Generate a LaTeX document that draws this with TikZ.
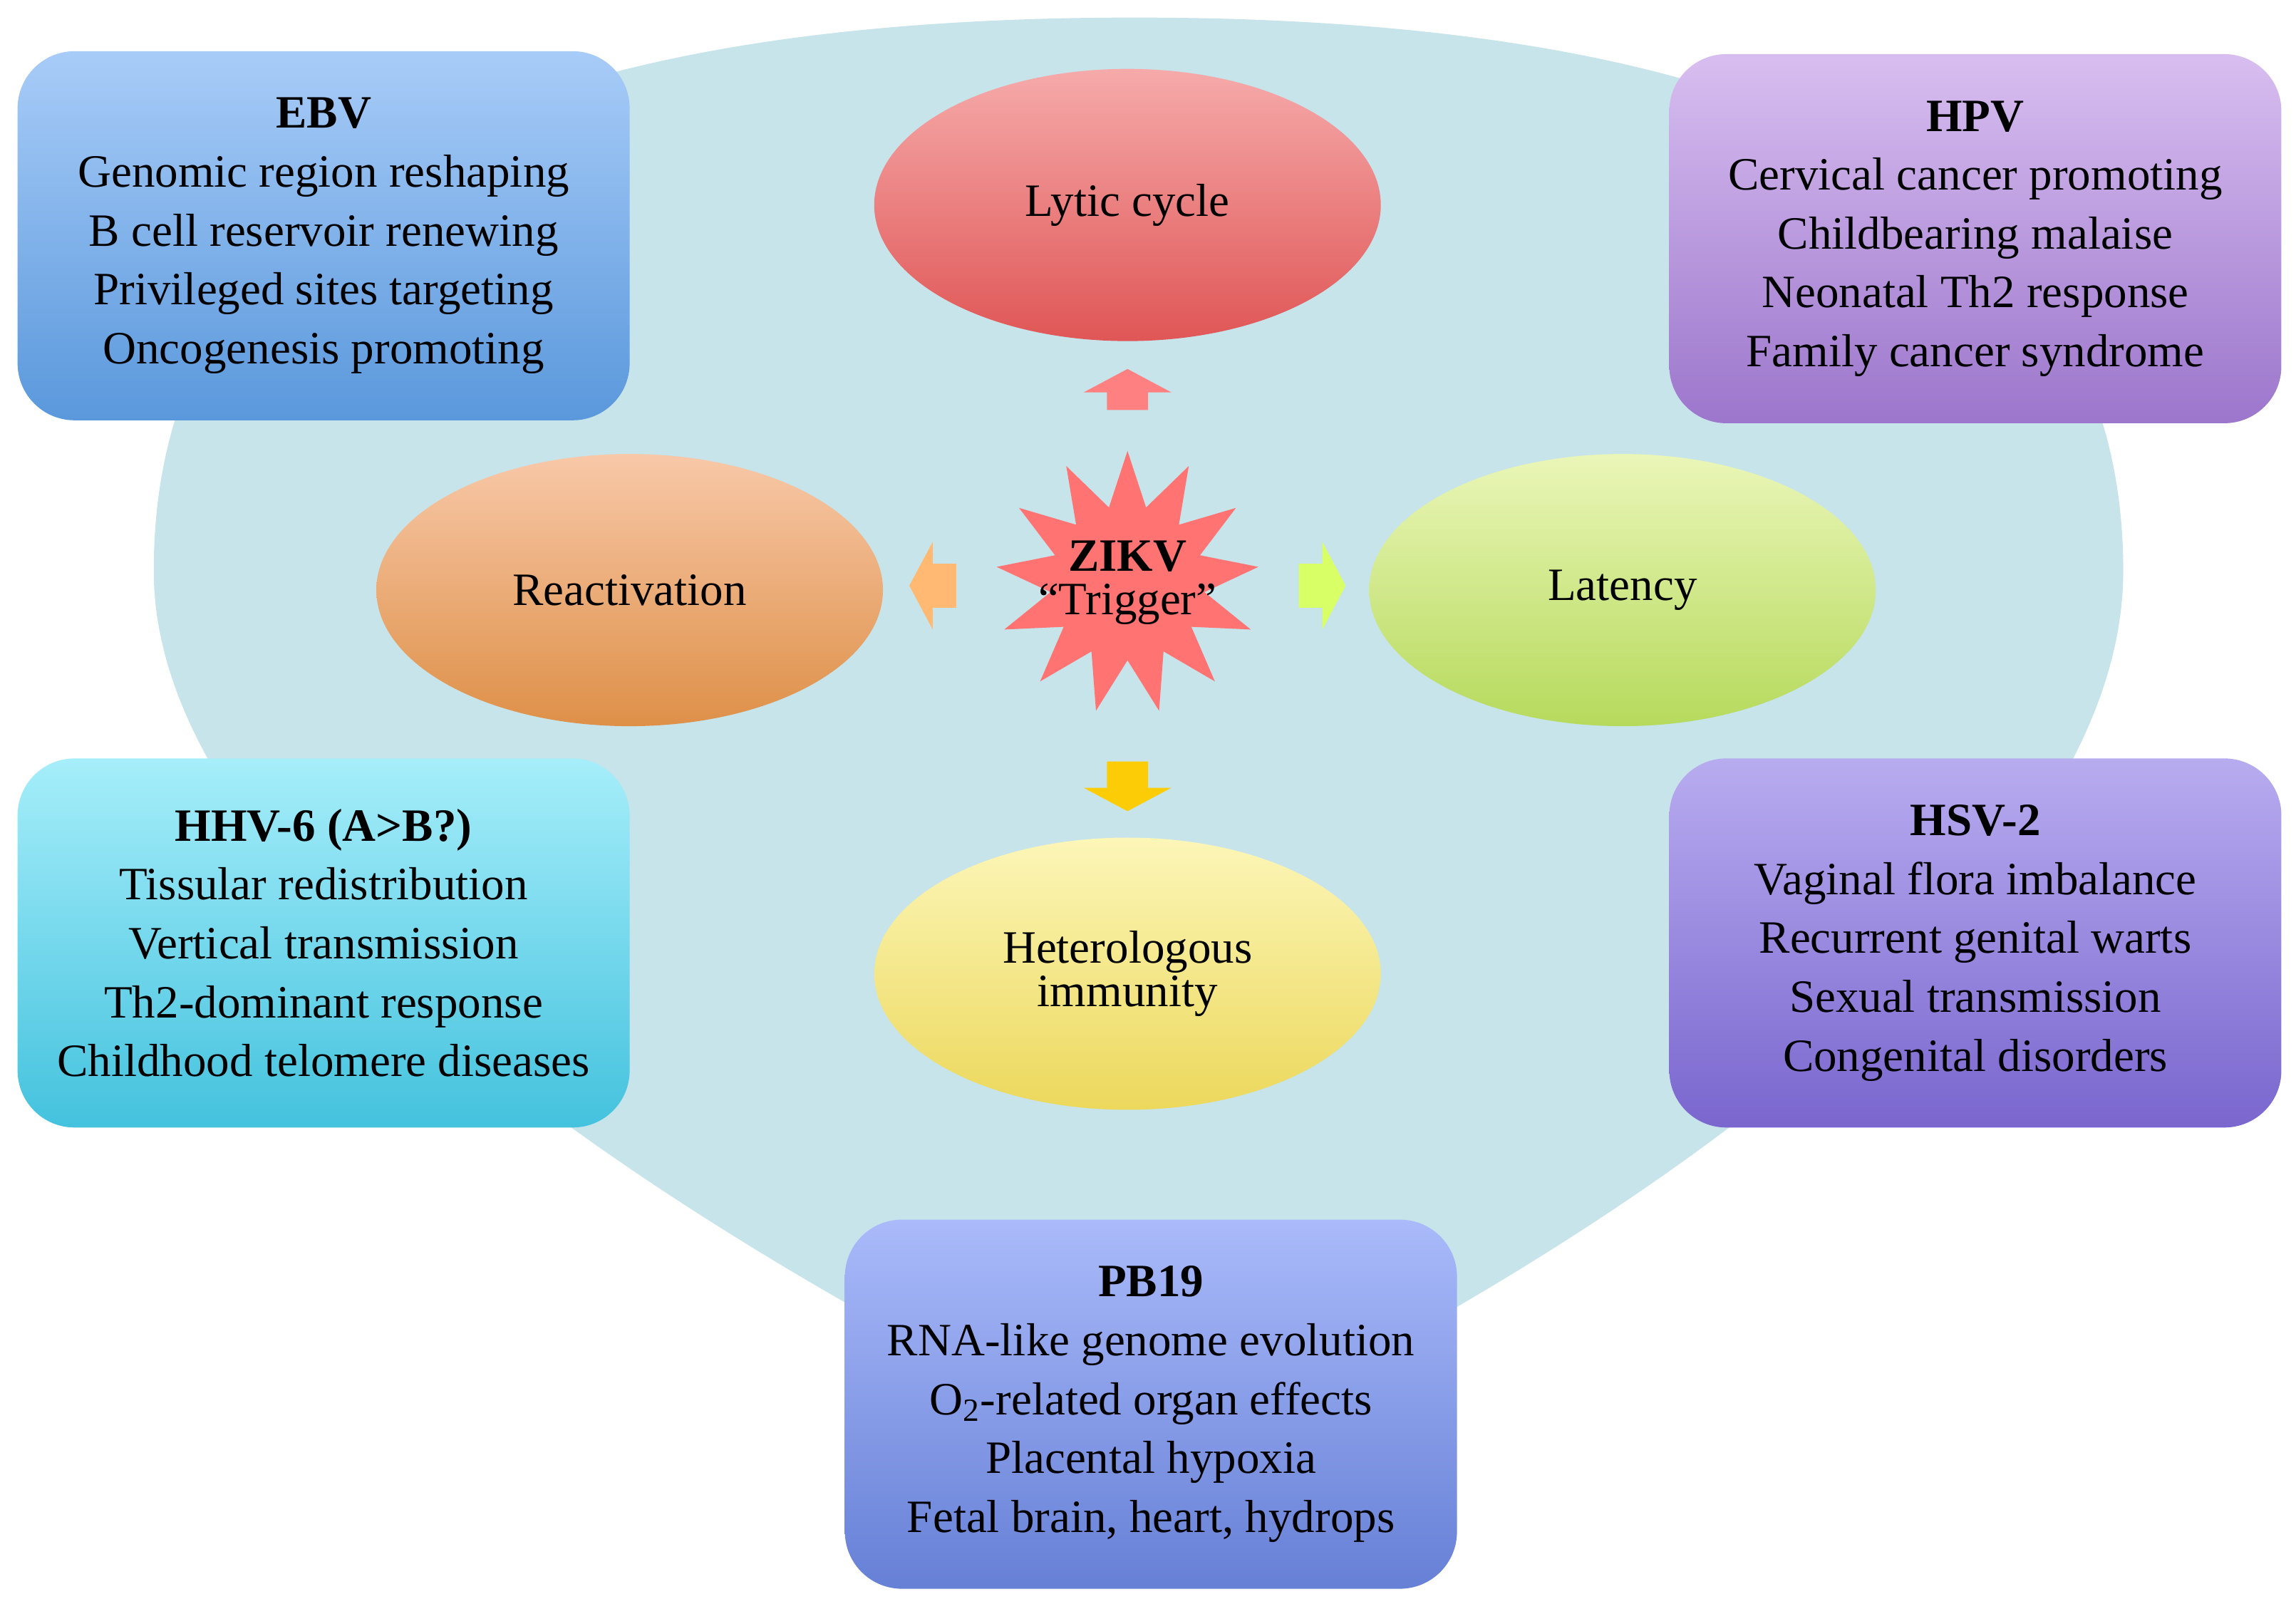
\documentclass[tikz,border=0pt]{standalone}
\usepackage{tikz}
\usepackage{fontspec}
\setmainfont{Liberation Serif}
\usetikzlibrary{shapes.geometric}
\definecolor{bgblue}{HTML}{C6E4EA}
\definecolor{ebvtop}{HTML}{A8CCF8}\definecolor{ebvbot}{HTML}{5A98DC}
\definecolor{hpvtop}{HTML}{D8BEF0}\definecolor{hpvbot}{HTML}{9C76CC}
\definecolor{hhvtop}{HTML}{A6EEFA}\definecolor{hhvbot}{HTML}{44C2DE}
\definecolor{hsvtop}{HTML}{B8ACF0}\definecolor{hsvbot}{HTML}{7A66CE}
\definecolor{pbtop}{HTML}{AABAFA}\definecolor{pbbot}{HTML}{6680D6}
\definecolor{lyttop}{HTML}{F6AAAA}\definecolor{lytbot}{HTML}{E05656}
\definecolor{retop}{HTML}{F8C8A8}\definecolor{rebot}{HTML}{DE9048}
\definecolor{lattop}{HTML}{EAF6B8}\definecolor{latbot}{HTML}{B6DA5C}
\definecolor{hettop}{HTML}{FCF6B8}\definecolor{hetbot}{HTML}{ECD85C}
\tikzset{
  every node/.style={font=\fontsize{18.5}{23.5}\selectfont},
  infobox/.style={rectangle, rounded corners=8mm, minimum width=85.9mm, minimum height=51.8mm, align=center, text=black},
  stage/.style={ellipse, minimum width=71.1mm, minimum height=38.2mm, align=center}
}
\begin{document}
\begin{tikzpicture}[x=0.2055mm, y=-0.2055mm]
\useasboundingbox (0,0) rectangle (1568,1095);
\fill[bgblue] (105,390) .. controls (105,100) and (400,12) .. (775,12) .. controls (1150,12) and (1450,100) .. (1450,390) .. controls (1450,600) and (1150,830) .. (790,1000) .. controls (430,830) and (105,600) .. (105,390);
% boxes
\node (ebv) [infobox, top color=ebvtop, bottom color=ebvbot] at (221,161)
  {\textbf{EBV}\\Genomic region reshaping\\B cell reservoir renewing\\Privileged sites targeting\\Oncogenesis promoting};
\node (hpv) [infobox, top color=hpvtop, bottom color=hpvbot] at (1349,163)
  {\textbf{HPV}\\Cervical cancer promoting\\Childbearing malaise\\Neonatal Th2 response\\Family cancer syndrome};
\node (hhv) [infobox, top color=hhvtop, bottom color=hhvbot] at (221,644)
  {\textbf{HHV-6 (A>B?)}\\Tissular redistribution\\Vertical transmission\\Th2-dominant response\\Childhood telomere diseases};
\node (hsv) [infobox, top color=hsvtop, bottom color=hsvbot] at (1349,644)
  {\textbf{HSV-2}\\Vaginal flora imbalance\\Recurrent genital warts\\Sexual transmission\\Congenital disorders};
\node (pb) [infobox, top color=pbtop, bottom color=pbbot] at (786,959)
  {\textbf{PB19}\\RNA-like genome evolution\\O\textsubscript{2}-related organ effects\\Placental hypoxia\\Fetal brain, heart, hydrops};
% stages
\node (lytic) [stage, top color=lyttop, bottom color=lytbot] at (770,140) {Lytic cycle};
\node (react) [stage, top color=retop, bottom color=rebot] at (430,403) {Reactivation};
\node (lat) [stage, top color=lattop, bottom color=latbot] at (1108,403) {Latency};
\node (het) [stage, top color=hettop, bottom color=hetbot] at (770,665) {Heterologous\\[-6pt]immunity};
% trigger
\node (zikv) [star, star points=13, star point ratio=1.7, minimum size=37mm, fill=red!55, inner sep=0pt] at (770,398) {};
\node (ztxt) at (zikv) [align=center] {\textbf{ZIKV}\\[-6pt]``Trigger''};
\fill[red!50] (740,268) -- (770,252) -- (800,268) -- (784,268) -- (784,280) -- (756,280) -- (756,268) -- cycle;
\fill[orange!55] (621,400) -- (637,370) -- (637,385) -- (653,385) -- (653,415) -- (637,415) -- (637,430) -- cycle;
\fill[lime!60] (919,400) -- (903,370) -- (903,385) -- (887,385) -- (887,415) -- (903,415) -- (903,430) -- cycle;
\fill[yellow!65!orange] (740,538) -- (770,554) -- (800,538) -- (784,538) -- (784,520) -- (756,520) -- (756,538) -- cycle;
\end{tikzpicture}
\end{document}
